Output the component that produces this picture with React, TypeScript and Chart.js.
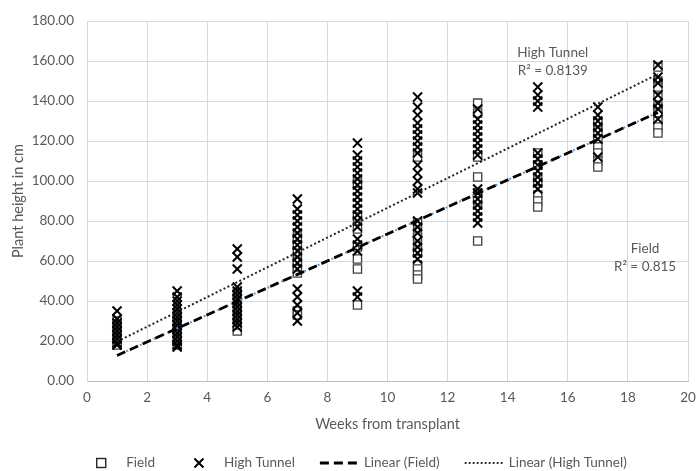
import React, { useEffect, useRef } from "react";
import { Chart, registerables } from "chart.js";

Chart.register(...registerables);

// ---------- data ----------
const weeks = [1, 3, 5, 7, 9, 11, 13, 15, 17, 19];

const fieldHeights: number[][] = [
  [30, 28, 26, 24, 22, 20, 18],
  [33, 29, 26, 24, 21, 18],
  [25, 28, 32, 36, 40, 44],
  [54, 57, 60, 64, 68, 72, 35, 33],
  [99, 82, 76, 67, 61, 56, 38],
  [112, 79, 72, 65, 58, 56, 53, 51],
  [139, 134, 112, 102, 94, 90, 70],
  [114, 108, 100, 93, 90, 87],
  [129, 125, 121, 117, 114, 110, 107],
  [157, 150, 147, 142, 137, 134, 130, 127, 124],
];

const tunnelHeights: number[][] = [
  [35, 31, 29, 27, 25, 23, 21, 19, 18],
  [45, 42, 40, 38, 36, 34, 32, 30, 28, 26, 24, 22, 20, 18, 17],
  [66, 62, 56, 47, 45, 43, 41, 39, 37, 35, 33, 31, 29, 27],
  [91, 86, 83, 80, 77, 74, 71, 68, 65, 62, 59, 56, 46, 42, 38, 34, 30],
  [119, 113, 110, 107, 104, 101, 98, 95, 92, 89, 86, 83, 80, 77, 71, 68, 65, 45, 42],
  [142, 137, 133, 129, 126, 123, 120, 117, 114, 108, 104, 100, 96, 94, 80, 77, 74, 70, 67, 64, 61],
  [136, 131, 128, 125, 122, 119, 116, 113, 96, 94, 91, 88, 85, 82, 79],
  [147, 143, 140, 137, 114, 111, 108, 105, 102, 99, 96],
  [137, 133, 130, 127, 124, 121, 112],
  [158, 152, 149, 143, 139, 136, 131],
];

const trendWeeks = [1, 19];
const fieldTrend = [12.8, 134.3];
const tunnelTrend = [19.7, 153.5];

const legendLabels = ["Field", "High Tunnel", "Linear (Field)", "Linear (High Tunnel)"];
const trendNames = ["High Tunnel", "Field"];
const trendR2 = ["R\u00B2 = 0.8139", "R\u00B2 = 0.815"];

const X_TITLE = "Weeks from transplant";
const Y_TITLE = "Plant height in cm";

// ---------- styles ----------
const FONT = "Lato, 'Liberation Sans', sans-serif";
const TEXT = "#595959";
const GRID = "#d9d9d9";

const trendLabelPos = [
  { x: 15.5, y1: 164, y2: 155 },
  { x: 18.57, y1: 66.3, y2: 57.3 },
];

const trendLabelPlugin = {
  id: "trendLabels",
  afterDatasetsDraw(chart: any) {
    const ctx = chart.ctx;
    const xs = chart.scales.x;
    const ys = chart.scales.y;
    ctx.save();
    ctx.font = `13.5px ${FONT}`;
    ctx.fillStyle = TEXT;
    ctx.textAlign = "center";
    ctx.textBaseline = "middle";
    trendNames.forEach((name, i) => {
      const p = trendLabelPos[i];
      ctx.fillText(name, xs.getPixelForValue(p.x), ys.getPixelForValue(p.y1));
      ctx.fillText(trendR2[i], xs.getPixelForValue(p.x), ys.getPixelForValue(p.y2));
    });
    ctx.restore();
  },
};

const legendPlugin = {
  id: "customLegend",
  afterDraw(chart: any) {
    const ctx = chart.ctx;
    ctx.save();
    ctx.font = `13.5px ${FONT}`;
    const slot = 38;
    const gap = 6;
    const spacing = 25;
    const widths = legendLabels.map((t) => ctx.measureText(t).width);
    const total =
      widths.reduce((a, b) => a + b, 0) +
      legendLabels.length * (slot + gap) +
      spacing * (legendLabels.length - 1);
    let x = chart.width / 2 + 6 - total / 2;
    const y = 463;
    legendLabels.forEach((t, i) => {
      const cx = x + slot / 2;
      ctx.save();
      if (i === 0) {
        ctx.fillStyle = "#ffffff";
        ctx.strokeStyle = "#262626";
        ctx.lineWidth = 1.4;
        ctx.fillRect(cx - 4.5, y - 4.5, 9, 9);
        ctx.strokeRect(cx - 4.5, y - 4.5, 9, 9);
      } else if (i === 1) {
        ctx.strokeStyle = "#000";
        ctx.lineWidth = 2;
        ctx.beginPath();
        ctx.moveTo(cx - 4.5, y - 4.5);
        ctx.lineTo(cx + 4.5, y + 4.5);
        ctx.moveTo(cx + 4.5, y - 4.5);
        ctx.lineTo(cx - 4.5, y + 4.5);
        ctx.stroke();
      } else if (i === 2) {
        ctx.strokeStyle = "#000";
        ctx.lineWidth = 2.8;
        ctx.setLineDash([9, 5]);
        ctx.beginPath();
        ctx.moveTo(x, y);
        ctx.lineTo(x + slot, y);
        ctx.stroke();
      } else {
        ctx.strokeStyle = "#2b2118";
        ctx.lineWidth = 1.8;
        ctx.setLineDash([1.8, 2.2]);
        ctx.beginPath();
        ctx.moveTo(x, y);
        ctx.lineTo(x + slot, y);
        ctx.stroke();
      }
      ctx.restore();
      ctx.fillStyle = TEXT;
      ctx.textAlign = "left";
      ctx.textBaseline = "middle";
      ctx.fillText(t, x + slot + gap, y);
      x += slot + gap + widths[i] + spacing;
    });
    ctx.restore();
  },
};

export default function App() {
  const ref = useRef<HTMLCanvasElement>(null);

  useEffect(() => {
    document.body.style.margin = "0";
    const canvas = ref.current;
    if (!canvas) return;
    const toPoints = (arr: number[][]) =>
      weeks.flatMap((w, i) => arr[i].map((v) => ({ x: w, y: v })));
    const toTrend = (vals: number[]) => trendWeeks.map((w, i) => ({ x: w, y: vals[i] }));

    const chart = new Chart(canvas, {
      type: "scatter",
      data: {
        datasets: [
          {
            label: "Linear (Field)",
            data: toTrend(fieldTrend),
            showLine: true,
            pointRadius: 0,
            borderColor: "#000000",
            borderWidth: 2.8,
            borderDash: [9, 5],
            order: 0,
          } as any,
          {
            label: "Linear (High Tunnel)",
            data: toTrend(tunnelTrend),
            showLine: true,
            pointRadius: 0,
            borderColor: "#2b2118",
            borderWidth: 2,
            borderDash: [2, 2.4],
            order: 1,
          } as any,
          {
            label: "Field trend (blue)",
            data: toTrend(fieldTrend),
            showLine: true,
            pointRadius: 0,
            borderColor: "#5b9bd5",
            borderWidth: 2,
            borderDash: [2, 3],
            order: 2,
          } as any,
          {
            label: "High Tunnel",
            data: toPoints(tunnelHeights),
            pointStyle: "crossRot",
            pointRadius: 6.4,
            borderColor: "#000000",
            borderWidth: 2,
            backgroundColor: "#000000",
            order: 3,
          } as any,
          {
            label: "Field",
            data: toPoints(fieldHeights),
            pointStyle: "rect",
            pointRadius: 5.8,
            borderColor: "#404040",
            borderWidth: 1.3,
            backgroundColor: "#ffffff",
            order: 4,
          } as any,
        ],
      },
      options: {
        responsive: false,
        animation: false,
        layout: { padding: { top: 20, right: 9, left: 0, bottom: 0 } },
        plugins: {
          legend: { display: false },
          tooltip: { enabled: false },
        },
        scales: {
          x: {
            type: "linear",
            min: 0,
            max: 20,
            ticks: {
              stepSize: 2,
              color: TEXT,
              font: { family: FONT, size: 13.5 },
              padding: 9,
            },
            grid: { color: GRID, drawTicks: false, lineWidth: 1 },
            border: { color: "#bfbfbf", width: 1 },
            title: {
              display: true,
              text: X_TITLE,
              color: TEXT,
              font: { family: FONT, size: 14.5 },
              padding: { top: 4, bottom: 38 },
            },
            afterFit: (scale: any) => {
              scale.height = 90;
              scale.paddingLeft = 0;
              scale.paddingRight = 0;
            },
          },
          y: {
            type: "linear",
            min: 0,
            max: 180,
            ticks: {
              stepSize: 20,
              color: TEXT,
              font: { family: FONT, size: 13.5 },
              padding: 13,
              callback: (v: any) => Number(v).toFixed(2),
            },
            grid: { color: GRID, drawTicks: false, lineWidth: 1 },
            border: { color: GRID, width: 1 },
            title: {
              display: true,
              text: Y_TITLE,
              color: TEXT,
              font: { family: FONT, size: 14.5 },
              padding: { top: 10, bottom: 0 },
            },
            afterFit: (scale: any) => {
              scale.width = 87;
            },
          },
        },
      },
      plugins: [trendLabelPlugin, legendPlugin],
    });
    return () => chart.destroy();
  }, []);

  return (
    <div style={{ width: 697, height: 471 }}>
      <canvas ref={ref} width={697} height={471} style={{ display: "block" }} />
    </div>
  );
}
